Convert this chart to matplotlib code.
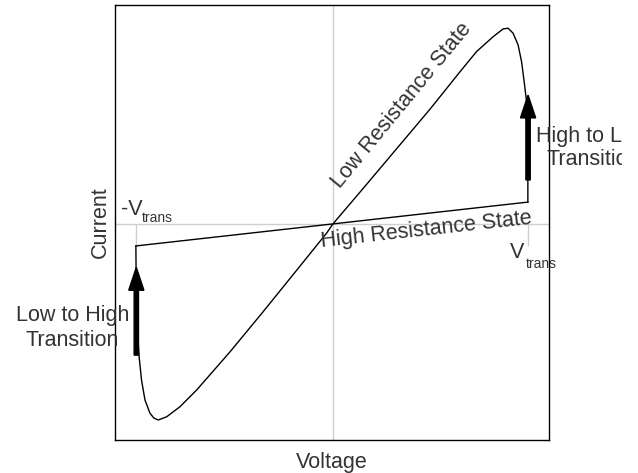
import matplotlib
matplotlib.use("Agg")
import matplotlib.pyplot as plt
from matplotlib.transforms import Bbox

plt.rcParams['font.family'] = ['Liberation Sans', 'DejaVu Sans']

# Data (arbitrary units)
v_trans_left = -0.908
v_trans_right = 0.899
hrs_v = [-0.908, 0.899]
hrs_i = [-0.101, 0.101]

# loop: from -V_trans down through the LRS minimum, through the origin,
# up to the LRS maximum and down to +V_trans
lrs_v = [-0.908, -0.906, -0.901, -0.893, -0.882, -0.866, -0.843, -0.825,
         -0.805, -0.766, -0.705, -0.628, -0.475, -0.323, -0.166, -0.028,
         0.0, 0.138, 0.295, 0.447, 0.585, 0.662, 0.739, 0.785, 0.808,
         0.831, 0.854, 0.870, 0.882, 0.893, 0.899, 0.899]
lrs_i = [-0.101, -0.350, -0.488, -0.612, -0.719, -0.811, -0.872, -0.894,
         -0.903, -0.888, -0.842, -0.765, -0.590, -0.406, -0.212, -0.041,
         0.0, 0.162, 0.348, 0.528, 0.700, 0.794, 0.863, 0.899, 0.902,
         0.879, 0.825, 0.748, 0.656, 0.564, 0.433, 0.101]

arrow_left = (-0.906, -0.604, -0.200)   # x, tail, tip
arrow_right = (0.900, 0.203, 0.594)

fig = plt.figure(figsize=(6.38, 4.73), dpi=100)
ax = fig.add_axes([0.180, 0.0698, 0.680, 0.9196])
ax.set_xlim(-1.005, 0.995)
ax.set_ylim(-0.995, 1.009)
ax.set_xticks([])
ax.set_yticks([])
for s in ax.spines.values():
    s.set_color('black')
    s.set_linewidth(1.0)

grey = '#cfcfcf'
ax.axhline(0, color=grey, lw=1, zorder=1)
ax.axvline(0, color=grey, lw=1, zorder=1)
ax.vlines([v_trans_left, v_trans_right], [-0.101, -0.1], [0, 0],
          color=grey, lw=1, zorder=1)

ax.plot(hrs_v, hrs_i, color='black', lw=1.0, zorder=3)
ax.plot(lrs_v, lrs_i, color='black', lw=1.0, zorder=3,
        solid_joinstyle='round')

for x, tail, tip in (arrow_left, arrow_right):
    ax.arrow(x, tail, 0, tip - tail, width=0.02, head_width=0.07,
             head_length=0.105, length_includes_head=True,
             color='black', zorder=4)

tc = '#333333'
fs = 15.5
sub = 10
ax.set_xlabel('Voltage', fontsize=fs, color=tc, labelpad=9)
ax.set_ylabel('Current', fontsize=fs, color=tc, labelpad=3)

ax.text(0.035, 0.160, 'Low Resistance State', rotation=50.5, fontsize=fs,
        color=tc, ha='left', va='baseline', rotation_mode='anchor')
ax.text(-0.051, -0.104, 'High Resistance State', rotation=6.3, fontsize=fs,
        color=tc, ha='left', va='baseline', rotation_mode='anchor')

ax.text(-0.978, 0.041, '-V', fontsize=fs, color=tc, ha='left', va='baseline')
ax.text(-0.882, 0.009, 'trans', fontsize=sub, color=tc, ha='left',
        va='baseline')
ax.text(0.816, -0.157, 'V', fontsize=fs, color=tc, ha='left', va='baseline')
ax.text(0.889, -0.203, 'trans', fontsize=sub, color=tc, ha='left',
        va='baseline')

ax.text(-1.200, -0.446, 'Low to High', fontsize=fs, color=tc,
        ha='center', va='baseline', clip_on=False)
ax.text(-1.200, -0.561, 'Transition', fontsize=fs, color=tc,
        ha='center', va='baseline', clip_on=False)

# the reference crops this label at its right side
crop = Bbox.from_extents(0, 0, 622, 473)
for yv, label in ((0.379, 'High to Low'), (0.272, 'Transition')):
    t = ax.text(1.200, yv, label, fontsize=fs, color=tc,
                ha='center', va='baseline', clip_on=True)
    t.set_clip_box(crop)

fig.savefig('out.png', dpi=100)
